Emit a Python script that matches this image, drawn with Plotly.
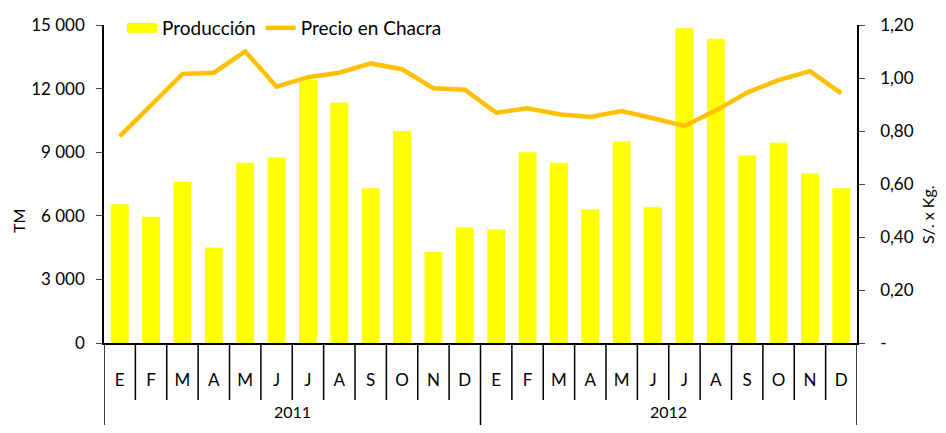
import plotly.graph_objects as go

years = ["2011", "2012"]
months = ["E", "F", "M", "A", "M", "J", "J", "A", "S", "O", "N", "D"] * 2
produccion = [6550, 5950, 7600, 4500, 8500, 8750, 12400, 11350, 7300, 10000, 4300, 5450,
              5350, 9000, 8500, 6300, 9500, 6400, 14850, 14350, 8850, 9450, 8000, 7300]
precio = [0.78, 0.90, 1.015, 1.02, 1.10, 0.967, 1.003, 1.02, 1.055, 1.033, 0.961, 0.956,
          0.869, 0.886, 0.863, 0.853, 0.875, 0.848, 0.819, 0.877, 0.945, 0.992, 1.026, 0.942]

left_ticks = [0, 3000, 6000, 9000, 12000, 15000]
left_text = ["0", "3 000", "6 000", "9 000", "12 000", "15 000"]
right_ticks = [0, 0.2, 0.4, 0.6, 0.8, 1.0, 1.2]
right_text = ["-", "0,20", "0,40", "0,60", "0,80", "1,00", "1,20"]

font = "Lato, Carlito, Calibri, sans-serif"
pos = list(range(len(months)))
n_per_year = len(months) // len(years)

fig = go.Figure()
fig.add_trace(go.Bar(x=pos, y=produccion, name="Producción", showlegend=False,
                     marker=dict(color="#FFFF00", line=dict(width=0))))
# legend swatch for bars (wide rectangle like the original)
fig.add_trace(go.Scatter(x=[None], y=[None], name="Producción", mode="lines",
                         line=dict(color="#FFFF00", width=14)))
fig.add_trace(go.Scatter(x=pos, y=precio, name="Precio en Chacra", yaxis="y2",
                         mode="lines", line=dict(color="#FFC000", width=4.5)))

# the page body has an 8px margin: keep the figure inside the window
W, H = 930, 417
ml, mt = 96, 17
plot_w, plot_h = 753, 318
mr = W - ml - plot_w
mb = H - mt - plot_h

# category separators
shapes = []
month_line_bottom = -57 / plot_h
year_line_bottom = -mb / plot_h
for i in range(len(months) + 1):
    xb = i - 0.5
    is_year = (i % n_per_year == 0)
    shapes.append(dict(type="line", xref="x", yref="paper", x0=xb, x1=xb, y0=0,
                       y1=year_line_bottom if is_year else month_line_bottom,
                       line=dict(color="black", width=1.5)))

annotations = []
for k, yr in enumerate(years):
    annotations.append(dict(text=yr, xref="x", yref="paper",
                            x=k * n_per_year + (n_per_year - 1) / 2,
                            y=-(403 - (H - mb)) / plot_h, yanchor="middle",
                            showarrow=False, font=dict(size=16)))
# axis titles
annotations.append(dict(text="TM", xref="paper", yref="paper",
                        x=(10 - ml) / plot_w, y=1 - (213 - mt) / plot_h,
                        xanchor="center", yanchor="middle", textangle=-90,
                        showarrow=False, font=dict(size=16)))
annotations.append(dict(text="S/. x Kg.", xref="paper", yref="paper",
                        x=(919 - ml) / plot_w, y=1 - (206 - mt) / plot_h,
                        xanchor="center", yanchor="middle", textangle=-90,
                        showarrow=False, font=dict(size=16)))

fig.update_layout(
    width=W, height=H,
    margin=dict(l=ml, r=mr, t=mt, b=mb, autoexpand=False),
    paper_bgcolor="white", plot_bgcolor="white",
    font=dict(family=font, size=16, color="black"),
    bargap=0.43,
    showlegend=True,
    legend=dict(orientation="h", xref="container", yref="container",
                x=114 / W, y=1 - 20 / H, xanchor="left", yanchor="middle",
                bgcolor="rgba(0,0,0,0)", font=dict(size=19)),
    shapes=shapes,
    annotations=annotations,
    xaxis=dict(range=[-0.5, len(months) - 0.5], tickvals=pos, ticktext=months,
               showline=True, linecolor="black", linewidth=1.5, ticks="",
               ticklabelstandoff=21, showgrid=False, zeroline=False,
               tickfont=dict(size=17), automargin=False),
    yaxis=dict(range=[0, 15000], tickvals=left_ticks, ticktext=left_text,
               showline=True, linecolor="black", linewidth=1.5, ticks="outside",
               ticklen=6, ticklabelstandoff=8, showgrid=False, zeroline=False,
               automargin=False, tickfont=dict(size=17)),
    yaxis2=dict(range=[0, 1.2], tickvals=right_ticks, ticktext=right_text,
                overlaying="y", side="right", showline=True, linecolor="black",
                linewidth=1.5, ticks="outside", ticklen=6, ticklabelstandoff=12,
                showgrid=False, zeroline=False, automargin=False,
                tickfont=dict(size=17)),
)

fig.write_html("out.html")
